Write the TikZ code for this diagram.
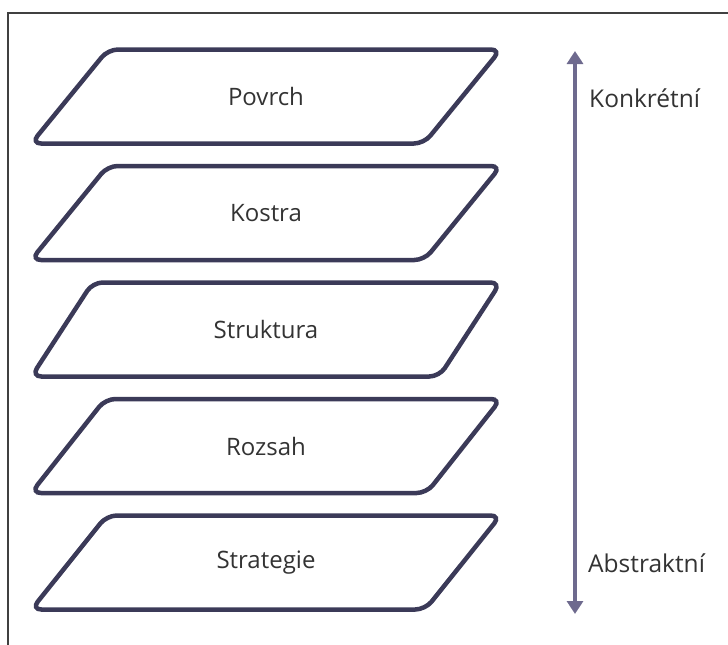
\documentclass[tikz,border=0pt]{standalone}
\usepackage{fontspec}
\setmainfont{Open Sans}
\usetikzlibrary{shapes.geometric,arrows.meta}

\definecolor{layerline}{HTML}{3B3A58}
\definecolor{axisline}{HTML}{6E6A8E}
\definecolor{labeltext}{HTML}{333333}

\begin{document}
\begin{tikzpicture}[%
    x=1pt, y=-1pt,
    >={Triangle[width=16pt,length=13pt]},
    layer/.style={trapezium, trapezium left angle=45, trapezium right angle=135,
      trapezium stretches=true, minimum width=470pt, minimum height=94pt,
      draw=layerline, line width=4.5pt, rounded corners=10pt, inner sep=0pt,
      text=labeltext, font=\fontsize{24}{28}\selectfont},
    axis/.style={draw=axisline, line width=3.2pt},
    side/.style={anchor=west, text=labeltext, inner sep=0pt,
      font=\fontsize{24.5}{28}\selectfont}
    ]

    \useasboundingbox (0,0) rectangle (728,645);
    \draw[line width=1.2pt, black!75] (728,13) -- (8,13) -- (8,645);

    \node[layer] (surface)   at (266,96.5)  {Povrch};
    \node[layer] (skeleton)  at (266,213)   {Kostra};
    \node[layer] (structure) at (266,329.5) {Struktura};
    \node[layer] (scope)     at (266,446)   {Rozsah};
    \node[layer] (strategy)  at (266,562.5) {Strategie};

    \coordinate (top) at (575,51);
    \coordinate (bottom) at (575,614);
    \path[<->] (bottom) edge[axis] (top);

    \node[side] (concrete) at (589,98) {Konkrétní};
    \node[side] (abstract) at (588,563) {Abstraktní};

\end{tikzpicture}
\end{document}
